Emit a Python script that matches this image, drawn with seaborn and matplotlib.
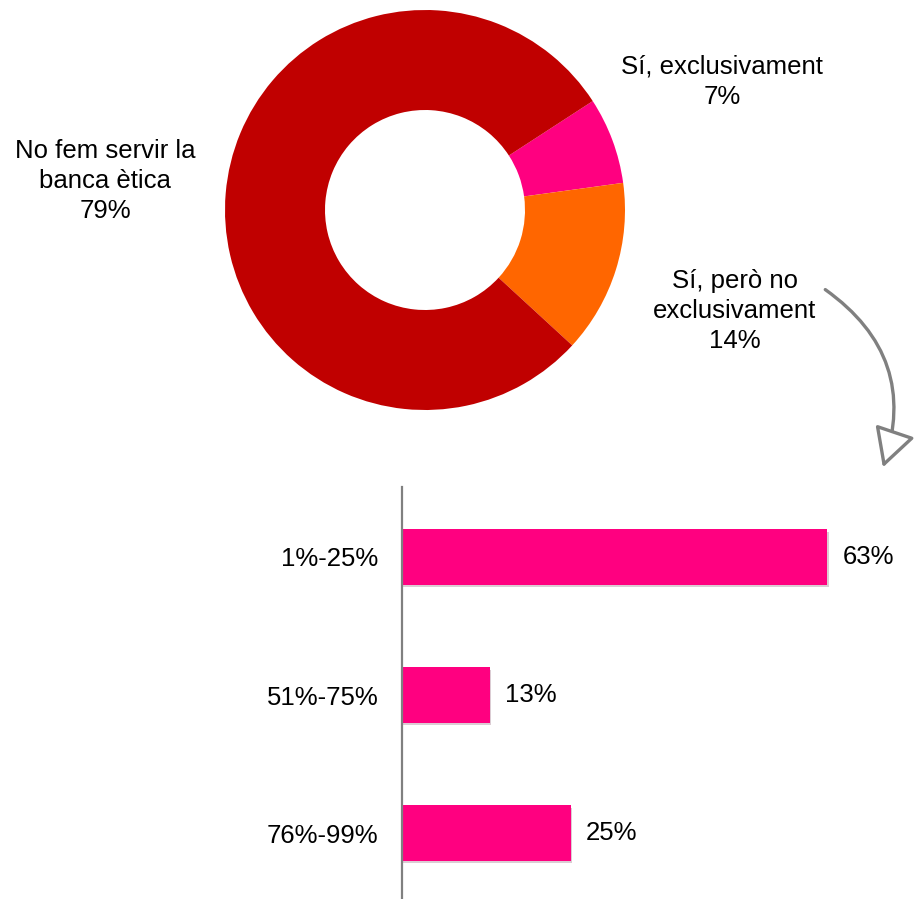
import matplotlib
matplotlib.use("Agg")
import seaborn as sns
import pandas as pd
from matplotlib import pyplot as plt
from matplotlib import patheffects as pe

# donut data (clockwise from upper right)
pie_labels = ["Sí, exclusivament", "Sí, però no\nexclusivament", "No fem servir la\nbanca ètica"]
pie_values = [7, 14, 79]
pie_colors = ["#FF0080", "#FF6600", "#C00000"]

# bar data
bar_cats = ["1%-25%", "51%-75%", "76%-99%"]
bar_values = [63, 13, 25]

sns.set_style("white")
plt.rcParams["font.family"] = ["Liberation Sans", "DejaVu Sans"]
plt.rcParams["text.color"] = "black"
plt.rcParams["ytick.color"] = "black"

W, H = 917, 899
fig = plt.figure(figsize=(W / 100, H / 100), dpi=100)


def box(x0, y0, x1, y1):
    # pixel box (top-left origin) -> figure fraction rect
    return [x0 / W, 1 - y1 / H, (x1 - x0) / W, (y1 - y0) / H]


# donut
ax1 = fig.add_axes(box(225, 10, 625, 410))
ax1.pie(pie_values, colors=pie_colors, startangle=33, counterclock=False,
        radius=1, wedgeprops=dict(width=0.5, linewidth=0))
ax1.set_xlim(-1, 1)
ax1.set_ylim(-1, 1)
ax1.set_aspect("equal")
ax1.axis("off")

fs = 18.5
label_pos = [(722, 82), (735, 311), (105, 181)]
for lab, v, (x, y) in zip(pie_labels, pie_values, label_pos):
    fig.text(x / W, 1 - y / H, f"{lab}\n{v}%", ha="center", va="center",
             fontsize=fs, linespacing=1.32)

# bars
ax2 = fig.add_axes(box(402, 487, 917, 899))
df = pd.DataFrame({"cat": bar_cats, "val": bar_values})
sns.barplot(data=df, x="val", y="cat", orient="h", color="#FF0080", width=0.4,
            saturation=1, linewidth=0, ax=ax2)
for p in ax2.patches:
    p.set_path_effects([pe.SimplePatchShadow(offset=(1, -2), alpha=0.2), pe.Normal()])
ax2.bar_label(ax2.containers[0], labels=[f"{v}%" for v in bar_values],
              padding=11, fontsize=fs)
ax2.set_xlim(0, 515 / 6.75)
ax2.set_ylim(2.478, -0.507)
ax2.set_xlabel("")
ax2.set_ylabel("")
ax2.set_xticks([])
ax2.tick_params(axis="y", length=0, pad=17, labelsize=fs)
for s in ["top", "right", "bottom"]:
    ax2.spines[s].set_visible(False)
ax2.spines["left"].set_color("#808080")
ax2.spines["left"].set_linewidth(1.6)

# hand-drawn style arrow
ax2.annotate("", xy=(882, H - 470), xytext=(823, H - 288),
             xycoords="figure pixels", textcoords="figure pixels",
             arrowprops=dict(arrowstyle="-|>,head_length=2.4,head_width=1.3",
                             connectionstyle="arc3,rad=-0.38",
                             edgecolor="#808080", facecolor="white", lw=2.4),
             annotation_clip=False)

fig.savefig("out.png", dpi=100)
